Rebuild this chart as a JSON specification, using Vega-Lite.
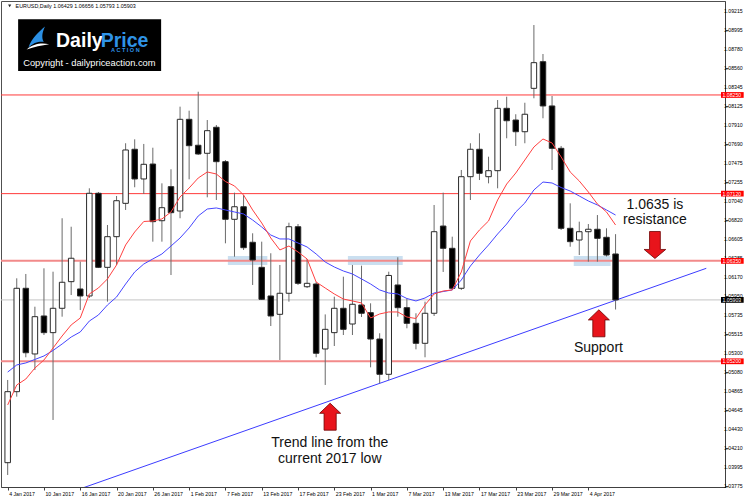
{
"$schema": "https://vega.github.io/schema/vega-lite/v6.json",
"width": 724, "height": 486,
"autosize": {"type": "none"},
"padding": {"left": 1, "top": 1, "right": 25, "bottom": 12},
"background": "white",
"config": {"view": {"stroke": "#505050", "strokeWidth": 1}, "font": "Liberation Sans",
 "axis": {"title": null, "grid": false, "labelFont": "Liberation Sans", "labelFontSize": 5.2, "labelColor": "#000000", "tickSize": 3, "tickColor": "#404040", "domainColor": "#404040", "labelOverlap": false, "labelFlush": false, "labelBound": false}},
"datasets": {
"candles": [
{"i":0,"o":1.04039,"h":1.04986,"l":1.03898,"c":1.04852,"fast":1.04700,"slow":1.05077},
{"i":1,"o":1.04852,"h":1.06150,"l":1.04795,"c":1.06036,"fast":1.04929,"slow":1.05158},
{"i":2,"o":1.06036,"h":1.06200,"l":1.05246,"c":1.05298,"fast":1.04997,"slow":1.05181},
{"i":3,"o":1.05284,"h":1.05825,"l":1.05100,"c":1.05711,"fast":1.05123,"slow":1.05221},
{"i":4,"o":1.05719,"h":1.06265,"l":1.05501,"c":1.05528,"fast":1.05215,"slow":1.05261},
{"i":5,"o":1.05528,"h":1.06226,"l":1.04528,"c":1.05807,"fast":1.05352,"slow":1.05324},
{"i":6,"o":1.05807,"h":1.06838,"l":1.05711,"c":1.06105,"fast":1.05490,"slow":1.05398},
{"i":7,"o":1.06112,"h":1.06741,"l":1.05959,"c":1.06380,"fast":1.05616,"slow":1.05478},
{"i":8,"o":1.06028,"h":1.06341,"l":1.05787,"c":1.05948,"fast":1.05696,"slow":1.05536},
{"i":9,"o":1.05948,"h":1.07181,"l":1.05925,"c":1.07124,"fast":1.05971,"slow":1.05661},
{"i":10,"o":1.07124,"h":1.07139,"l":1.06268,"c":1.06276,"fast":1.06039,"slow":1.05730},
{"i":11,"o":1.06276,"h":1.06761,"l":1.05883,"c":1.06627,"fast":1.06143,"slow":1.05845},
{"i":12,"o":1.06627,"h":1.07093,"l":1.06303,"c":1.07039,"fast":1.06303,"slow":1.05936},
{"i":13,"o":1.07009,"h":1.07697,"l":1.06933,"c":1.07620,"fast":1.06532,"slow":1.06085},
{"i":14,"o":1.07628,"h":1.07742,"l":1.07193,"c":1.07288,"fast":1.06681,"slow":1.06223},
{"i":15,"o":1.07288,"h":1.07689,"l":1.07116,"c":1.07456,"fast":1.06801,"slow":1.06314},
{"i":16,"o":1.07459,"h":1.07646,"l":1.06570,"c":1.06799,"fast":1.06807,"slow":1.06372},
{"i":17,"o":1.06810,"h":1.07238,"l":1.06570,"c":1.06959,"fast":1.06830,"slow":1.06429},
{"i":18,"o":1.07200,"h":1.07399,"l":1.06188,"c":1.06902,"fast":1.06910,"slow":1.06520},
{"i":19,"o":1.06921,"h":1.08116,"l":1.06838,"c":1.07971,"fast":1.07082,"slow":1.06612},
{"i":20,"o":1.07971,"h":1.08070,"l":1.07284,"c":1.07669,"fast":1.07185,"slow":1.06727},
{"i":21,"o":1.07674,"h":1.08287,"l":1.07563,"c":1.07574,"fast":1.07299,"slow":1.06864},
{"i":22,"o":1.07582,"h":1.07963,"l":1.07078,"c":1.07841,"fast":1.07368,"slow":1.06944},
{"i":23,"o":1.07880,"h":1.07906,"l":1.07047,"c":1.07486,"fast":1.07345,"slow":1.06956},
{"i":24,"o":1.07486,"h":1.07505,"l":1.06551,"c":1.06826,"fast":1.07259,"slow":1.06933},
{"i":25,"o":1.06826,"h":1.07131,"l":1.06398,"c":1.06970,"fast":1.07208,"slow":1.06910},
{"i":26,"o":1.06970,"h":1.07104,"l":1.06475,"c":1.06501,"fast":1.07104,"slow":1.06887},
{"i":27,"o":1.06563,"h":1.06666,"l":1.06074,"c":1.06360,"fast":1.06933,"slow":1.06818},
{"i":28,"o":1.06276,"h":1.06570,"l":1.05902,"c":1.05910,"fast":1.06784,"slow":1.06738},
{"i":29,"o":1.05948,"h":1.06437,"l":1.05604,"c":1.05719,"fast":1.06612,"slow":1.06646},
{"i":30,"o":1.05738,"h":1.06303,"l":1.05215,"c":1.05979,"fast":1.06475,"slow":1.06601},
{"i":31,"o":1.05979,"h":1.06787,"l":1.05883,"c":1.06741,"fast":1.06520,"slow":1.06601},
{"i":32,"o":1.06741,"h":1.06772,"l":1.06074,"c":1.06093,"fast":1.06452,"slow":1.06555},
{"i":33,"o":1.06054,"h":1.06369,"l":1.06039,"c":1.06093,"fast":1.06372,"slow":1.06509},
{"i":34,"o":1.06085,"h":1.06108,"l":1.05246,"c":1.05292,"fast":1.06108,"slow":1.06429},
{"i":35,"o":1.05341,"h":1.05737,"l":1.04929,"c":1.05566,"fast":1.06039,"slow":1.06337},
{"i":36,"o":1.05528,"h":1.05940,"l":1.05375,"c":1.05807,"fast":1.05971,"slow":1.06280},
{"i":37,"o":1.05807,"h":1.06169,"l":1.05501,"c":1.05566,"fast":1.05913,"slow":1.06234},
{"i":38,"o":1.05627,"h":1.06303,"l":1.05501,"c":1.05853,"fast":1.05891,"slow":1.06200},
{"i":39,"o":1.05845,"h":1.06295,"l":1.05707,"c":1.05750,"fast":1.05868,"slow":1.06143},
{"i":40,"o":1.05757,"h":1.05864,"l":1.05131,"c":1.05455,"fast":1.05696,"slow":1.06085},
{"i":41,"o":1.05455,"h":1.05521,"l":1.04948,"c":1.05051,"fast":1.05742,"slow":1.06017},
{"i":42,"o":1.05051,"h":1.06226,"l":1.04986,"c":1.06183,"fast":1.05765,"slow":1.05982},
{"i":43,"o":1.06074,"h":1.06391,"l":1.05711,"c":1.05814,"fast":1.05765,"slow":1.05971},
{"i":44,"o":1.05814,"h":1.05921,"l":1.05578,"c":1.05635,"fast":1.05707,"slow":1.05919},
{"i":45,"o":1.05635,"h":1.05750,"l":1.05337,"c":1.05406,"fast":1.05690,"slow":1.05891},
{"i":46,"o":1.05406,"h":1.05883,"l":1.05246,"c":1.05750,"fast":1.05845,"slow":1.05925},
{"i":47,"o":1.05750,"h":1.06990,"l":1.05719,"c":1.06684,"fast":1.05971,"slow":1.05982},
{"i":48,"o":1.06749,"h":1.07131,"l":1.06223,"c":1.06494,"fast":1.06005,"slow":1.05999},
{"i":49,"o":1.06494,"h":1.06627,"l":1.06017,"c":1.06036,"fast":1.06017,"slow":1.06017},
{"i":50,"o":1.06036,"h":1.07391,"l":1.06017,"c":1.07314,"fast":1.06223,"slow":1.06131},
{"i":51,"o":1.07314,"h":1.07697,"l":1.07047,"c":1.07628,"fast":1.06578,"slow":1.06291},
{"i":52,"o":1.07628,"h":1.07811,"l":1.07276,"c":1.07353,"fast":1.06704,"slow":1.06417},
{"i":53,"o":1.07314,"h":1.07543,"l":1.07238,"c":1.07383,"fast":1.06807,"slow":1.06532},
{"i":54,"o":1.07383,"h":1.08192,"l":1.07181,"c":1.08097,"fast":1.07047,"slow":1.06658},
{"i":55,"o":1.08097,"h":1.08230,"l":1.07754,"c":1.07955,"fast":1.07230,"slow":1.06772},
{"i":56,"o":1.07963,"h":1.08029,"l":1.07666,"c":1.07829,"fast":1.07356,"slow":1.06910},
{"i":57,"o":1.07829,"h":1.08161,"l":1.07697,"c":1.08029,"fast":1.07505,"slow":1.07013},
{"i":58,"o":1.08326,"h":1.09051,"l":1.08212,"c":1.08620,"fast":1.07654,"slow":1.07162},
{"i":59,"o":1.08631,"h":1.08719,"l":1.07983,"c":1.08124,"fast":1.07746,"slow":1.07253},
{"i":60,"o":1.08124,"h":1.08238,"l":1.07391,"c":1.07639,"fast":1.07700,"slow":1.07242},
{"i":61,"o":1.07639,"h":1.07666,"l":1.06704,"c":1.06723,"fast":1.07540,"slow":1.07190},
{"i":62,"o":1.06723,"h":1.07009,"l":1.06512,"c":1.06570,"fast":1.07368,"slow":1.07150},
{"i":63,"o":1.06589,"h":1.06799,"l":1.06417,"c":1.06684,"fast":1.07265,"slow":1.07093},
{"i":64,"o":1.06684,"h":1.06772,"l":1.06341,"c":1.06712,"fast":1.07139,"slow":1.07036},
{"i":65,"o":1.06712,"h":1.06875,"l":1.06341,"c":1.06608,"fast":1.07001,"slow":1.06990},
{"i":66,"o":1.06620,"h":1.06723,"l":1.06400,"c":1.06417,"fast":1.06910,"slow":1.06933},
{"i":67,"o":1.06429,"h":1.06656,"l":1.05793,"c":1.05903,"fast":1.06761,"slow":1.06875}
],
"yticks": [{"p":1.09215},{"p":1.08995},{"p":1.0878},{"p":1.0856},{"p":1.08345},{"p":1.08125},{"p":1.0791},{"p":1.0769},{"p":1.07475},{"p":1.07255},{"p":1.0704},{"p":1.0682},{"p":1.06605},{"p":1.06385},{"p":1.0617},{"p":1.0595},{"p":1.05735},{"p":1.05515},{"p":1.053},{"p":1.0508},{"p":1.04865},{"p":1.04645},{"p":1.0443},{"p":1.0421},{"p":1.03995},{"p":1.03775}]
},
"layer": [
{
"data": {"values": [
{"i0":24.27,"i1":28.62,"p0":1.06406,"p1":1.06303},
{"i0":37.50,"i1":43.54,"p0":1.06406,"p1":1.06303},
{"i0":62.39,"i1":66.45,"p0":1.06406,"p1":1.06292}
]},
"mark": {"type": "rect", "fill": "#c4dbee", "opacity": 0.9, "clip": true},
"encoding": {
"x": {"field": "i0", "type": "quantitative", "scale": {"domain": [-0.1848, 78.5109], "nice": false, "zero": false},
 "axis": {"orient": "bottom", "title": null, "values": [0,4,8,12,16,20,24,28,32,36,40,44,48,52,56,60,64],
 "labelExpr": "['4 Jan 2017','10 Jan 2017','16 Jan 2017','20 Jan 2017','26 Jan 2017','1 Feb 2017','7 Feb 2017','13 Feb 2017','17 Feb 2017','23 Feb 2017','1 Mar 2017','7 Mar 2017','13 Mar 2017','17 Mar 2017','23 Mar 2017','29 Mar 2017','4 Apr 2017'][round(datum.value/4)]",
 "labelAlign": "left", "labelBaseline": "top", "labelPadding": 1, "labelOffset": 1, "labelOverlap": false, "labelFlush": false, "labelBound": false}},
"x2": {"field": "i1"},
"y": {"field": "p0", "type": "quantitative", "scale": {"domain": [1.037604, 1.093261], "nice": false, "zero": false},
 "axis": {"orient": "right", "title": null, "values": [1.09215,1.08995,1.0878,1.0856,1.08345,1.08125,1.0791,1.0769,1.07475,1.07255,1.0704,1.0682,1.06605,1.06385,1.0617,1.0595,1.05735,1.05515,1.053,1.0508,1.04865,1.04645,1.0443,1.0421,1.03995,1.03775],
 "labels": false}},
"y2": {"field": "p1"}
}
},
{
"data": {"values": [{"p": 1.05903}]},
"mark": {"type": "rule", "color": "#c4c4c4", "strokeWidth": 1, "clip": true},
"encoding": {"y": {"field": "p", "type": "quantitative", "scale": {"domain": [1.037604, 1.093261], "nice": false, "zero": false}}}
},
{
"data": {"values": [{"p": 1.0635}, {"p": 1.052}]},
"mark": {"type": "rule", "color": "#f28a8a", "strokeWidth": 2, "clip": true},
"encoding": {"y": {"field": "p", "type": "quantitative", "scale": {"domain": [1.037604, 1.093261], "nice": false, "zero": false}}}
},
{
"data": {"values": [{"p": 1.0825}, {"p": 1.0712}]},
"mark": {"type": "rule", "color": "#ff3a3a", "strokeWidth": 1, "clip": true},
"encoding": {"y": {"field": "p", "type": "quantitative", "scale": {"domain": [1.037604, 1.093261], "nice": false, "zero": false}}}
},
{
"data": {"values": [{"i": 8.0, "p": 1.037396}, {"i": 77.0, "p": 1.06265}]},
"mark": {"type": "line", "color": "#3c3cff", "strokeWidth": 1, "clip": true},
"encoding": {
"x": {"field": "i", "type": "quantitative", "scale": {"domain": [-0.1848, 78.5109], "nice": false, "zero": false}},
"y": {"field": "p", "type": "quantitative", "scale": {"domain": [1.037604, 1.093261], "nice": false, "zero": false}}
}
},
{
"data": {"name": "candles"},
"mark": {"type": "rule", "color": "#6a6a6a", "strokeWidth": 1, "clip": true},
"encoding": {
"x": {"field": "i", "type": "quantitative", "scale": {"domain": [-0.1848, 78.5109], "nice": false, "zero": false}},
"y": {"field": "l", "type": "quantitative", "scale": {"domain": [1.037604, 1.093261], "nice": false, "zero": false}},
"y2": {"field": "h"}
}
},
{
"data": {"name": "candles"},
"mark": {"type": "bar", "width": 5.5, "stroke": "#2a2a2a", "strokeWidth": 1, "clip": true},
"encoding": {
"x": {"field": "i", "type": "quantitative", "scale": {"domain": [-0.1848, 78.5109], "nice": false, "zero": false}},
"y": {"field": "o", "type": "quantitative", "scale": {"domain": [1.037604, 1.093261], "nice": false, "zero": false}},
"y2": {"field": "c"},
"fill": {"condition": {"test": "datum.c >= datum.o", "value": "#ffffff"}, "value": "#000000"}
}
},
{
"data": {"name": "candles"},
"mark": {"type": "line", "color": "#4646ff", "strokeWidth": 1, "clip": true},
"encoding": {
"x": {"field": "i", "type": "quantitative", "scale": {"domain": [-0.1848, 78.5109], "nice": false, "zero": false}},
"y": {"field": "slow", "type": "quantitative", "scale": {"domain": [1.037604, 1.093261], "nice": false, "zero": false}}
}
},
{
"data": {"name": "candles"},
"mark": {"type": "line", "color": "#ff4040", "strokeWidth": 1, "clip": true},
"encoding": {
"x": {"field": "i", "type": "quantitative", "scale": {"domain": [-0.1848, 78.5109], "nice": false, "zero": false}},
"y": {"field": "fast", "type": "quantitative", "scale": {"domain": [1.037604, 1.093261], "nice": false, "zero": false}}
}
},
{
"data": {"values": [{"i0": 1.152, "i1": 16.913, "p0": 1.091165, "p1": 1.085245}]},
"mark": {"type": "rect", "fill": "#000000"},
"encoding": {
"x": {"field": "i0", "type": "quantitative", "scale": {"domain": [-0.1848, 78.5109], "nice": false, "zero": false}},
"x2": {"field": "i1"},
"y": {"field": "p0", "type": "quantitative", "scale": {"domain": [1.037604, 1.093261], "nice": false, "zero": false}},
"y2": {"field": "p1"}
}
},
{
"data": {"values": [{"i": 3.33, "p": 1.08899}]},
"mark": {"type": "point", "shape": "M0.6,-1C0.15,-0.6,-0.55,-0.05,-0.8,0.8C-0.4,0.35,0.1,0.25,0.5,0.3C0.3,0,0.35,-0.5,0.6,-1Z", "size": 560, "filled": true, "fill": "#2b8fe3", "opacity": 1, "strokeWidth": 0},
"encoding": {
"x": {"field": "i", "type": "quantitative", "scale": {"domain": [-0.1848, 78.5109], "nice": false, "zero": false}},
"y": {"field": "p", "type": "quantitative", "scale": {"domain": [1.037604, 1.093261], "nice": false, "zero": false}}
}
},
{
"data": {"values": [{"i": 3.33, "p": 1.08899}]},
"mark": {"type": "point", "shape": "M-0.95,0.95C-0.4,0.45,0.3,0.35,0.95,0.5C0.3,0.6,-0.3,0.7,-0.95,0.95Z", "size": 560, "filled": true, "fill": "#ffffff", "opacity": 1, "strokeWidth": 0},
"encoding": {
"x": {"field": "i", "type": "quantitative", "scale": {"domain": [-0.1848, 78.5109], "nice": false, "zero": false}},
"y": {"field": "p", "type": "quantitative", "scale": {"domain": [1.037604, 1.093261], "nice": false, "zero": false}}
}
},
{
"data": {"values": [{"i": 5.33, "p": 1.08805, "t": "Daily"}]},
"mark": {"type": "text", "align": "left", "baseline": "alphabetic", "font": "Liberation Sans", "fontWeight": "bold", "fontSize": 19.5, "color": "#ffffff"},
"encoding": {
"x": {"field": "i", "type": "quantitative", "scale": {"domain": [-0.1848, 78.5109], "nice": false, "zero": false}},
"y": {"field": "p", "type": "quantitative", "scale": {"domain": [1.037604, 1.093261], "nice": false, "zero": false}},
"text": {"field": "t"}
}
},
{
"data": {"values": [{"i": 10.25, "p": 1.08805, "t": "Price"}]},
"mark": {"type": "text", "align": "left", "baseline": "alphabetic", "font": "Liberation Sans", "fontWeight": "bold", "fontSize": 19.5, "color": "#2f93e6"},
"encoding": {
"x": {"field": "i", "type": "quantitative", "scale": {"domain": [-0.1848, 78.5109], "nice": false, "zero": false}},
"y": {"field": "p", "type": "quantitative", "scale": {"domain": [1.037604, 1.093261], "nice": false, "zero": false}},
"text": {"field": "t"}
}
},
{
"data": {"values": [{"i": 12.97, "p": 1.08738, "t": "A C T I O N"}]},
"mark": {"type": "text", "align": "center", "baseline": "alphabetic", "font": "Liberation Sans", "fontWeight": "bold", "fontSize": 5.5, "color": "#2f93e6"},
"encoding": {
"x": {"field": "i", "type": "quantitative", "scale": {"domain": [-0.1848, 78.5109], "nice": false, "zero": false}},
"y": {"field": "p", "type": "quantitative", "scale": {"domain": [1.037604, 1.093261], "nice": false, "zero": false}},
"text": {"field": "t"}
}
},
{
"data": {"values": [{"i": 9.0, "p": 1.08587, "t": "Copyright - dailypriceaction.com"}]},
"mark": {"type": "text", "align": "center", "baseline": "alphabetic", "font": "Liberation Sans", "fontSize": 9.3, "color": "#ffffff"},
"encoding": {
"x": {"field": "i", "type": "quantitative", "scale": {"domain": [-0.1848, 78.5109], "nice": false, "zero": false}},
"y": {"field": "p", "type": "quantitative", "scale": {"domain": [1.037604, 1.093261], "nice": false, "zero": false}},
"text": {"field": "t"}
}
},
{
"data": {"values": [{"i": 0.87, "p": 1.09269, "t": "EURUSD,Daily  1.06429 1.06656 1.05793 1.05903"}]},
"mark": {"type": "text", "align": "left", "baseline": "middle", "font": "Liberation Sans", "fontSize": 5.4, "color": "#000000"},
"encoding": {
"x": {"field": "i", "type": "quantitative", "scale": {"domain": [-0.1848, 78.5109], "nice": false, "zero": false}},
"y": {"field": "p", "type": "quantitative", "scale": {"domain": [1.037604, 1.093261], "nice": false, "zero": false}},
"text": {"field": "t"}
}
},
{
"data": {"values": [{"i": 0.22, "p": 1.09269}]},
"mark": {"type": "point", "shape": "triangle-down", "size": 10, "filled": true, "fill": "#222222", "opacity": 1},
"encoding": {
"x": {"field": "i", "type": "quantitative", "scale": {"domain": [-0.1848, 78.5109], "nice": false, "zero": false}},
"y": {"field": "p", "type": "quantitative", "scale": {"domain": [1.037604, 1.093261], "nice": false, "zero": false}}
}
},
{
"data": {"values": [{"i": 65.16, "p": 1.05635}, {"i": 35.54, "p": 1.045655}]},
"mark": {"type": "point", "shape": "M0,-1L0.78,-0.25L0.45,-0.25L0.45,1L-0.45,1L-0.45,-0.25L-0.78,-0.25Z", "size": 729, "filled": true, "fill": "#e8141b", "stroke": "#6e0000", "strokeWidth": 0.8, "opacity": 1},
"encoding": {
"x": {"field": "i", "type": "quantitative", "scale": {"domain": [-0.1848, 78.5109], "nice": false, "zero": false}},
"y": {"field": "p", "type": "quantitative", "scale": {"domain": [1.037604, 1.093261], "nice": false, "zero": false}}
}
},
{
"data": {"values": [{"i": 71.34, "p": 1.065318}]},
"mark": {"type": "point", "shape": "M0,1L0.8,0.33L0.4,0.33L0.4,-1L-0.4,-1L-0.4,0.33L-0.8,0.33Z", "size": 729, "filled": true, "fill": "#e8141b", "stroke": "#6e0000", "strokeWidth": 0.8, "opacity": 1},
"encoding": {
"x": {"field": "i", "type": "quantitative", "scale": {"domain": [-0.1848, 78.5109], "nice": false, "zero": false}},
"y": {"field": "p", "type": "quantitative", "scale": {"domain": [1.037604, 1.093261], "nice": false, "zero": false}}
}
},
{
"data": {"values": [
{"i": 71.34, "p": 1.06944, "t": "1.0635 is"},
{"i": 71.34, "p": 1.06778, "t": "resistance"},
{"i": 65.11, "p": 1.05307, "t": "Support"},
{"i": 35.5, "p": 1.04213, "t": "Trend line from the"},
{"i": 35.5, "p": 1.04030, "t": "current 2017 low"}
]},
"mark": {"type": "text", "align": "center", "baseline": "alphabetic", "font": "Liberation Sans", "fontSize": 14, "color": "#111111"},
"encoding": {
"x": {"field": "i", "type": "quantitative", "scale": {"domain": [-0.1848, 78.5109], "nice": false, "zero": false}},
"y": {"field": "p", "type": "quantitative", "scale": {"domain": [1.037604, 1.093261], "nice": false, "zero": false}},
"text": {"field": "t"}
}
},
{
"data": {"name": "yticks"},
"mark": {"type": "text", "align": "left", "baseline": "middle", "font": "Liberation Sans", "fontSize": 5.2, "color": "#000000", "clip": false},
"encoding": {
"x": {"datum": 78.946, "type": "quantitative", "scale": {"domain": [-0.1848, 78.5109], "nice": false, "zero": false}},
"y": {"field": "p", "type": "quantitative", "scale": {"domain": [1.037604, 1.093261], "nice": false, "zero": false}},
"text": {"field": "p", "format": ".5f"}
}
},
{
"data": {"values": [{"p": 1.0825}, {"p": 1.0712}, {"p": 1.0635}, {"p": 1.052}]},
"transform": [{"calculate": "datum.p + 0.00033", "as": "top"}, {"calculate": "datum.p - 0.00033", "as": "bot"}],
"mark": {"type": "rect", "fill": "#ff0000", "clip": false},
"encoding": {
"x": {"datum": 78.62, "type": "quantitative", "scale": {"domain": [-0.1848, 78.5109], "nice": false, "zero": false}},
"x2": {"datum": 81.12},
"y": {"field": "top", "type": "quantitative", "scale": {"domain": [1.037604, 1.093261], "nice": false, "zero": false}},
"y2": {"field": "bot"}
}
},
{
"data": {"values": [{"p": 1.05903}]},
"transform": [{"calculate": "datum.p + 0.00033", "as": "top"}, {"calculate": "datum.p - 0.00033", "as": "bot"}],
"mark": {"type": "rect", "fill": "#000000", "clip": false},
"encoding": {
"x": {"datum": 78.62, "type": "quantitative", "scale": {"domain": [-0.1848, 78.5109], "nice": false, "zero": false}},
"x2": {"datum": 81.12},
"y": {"field": "top", "type": "quantitative", "scale": {"domain": [1.037604, 1.093261], "nice": false, "zero": false}},
"y2": {"field": "bot"}
}
},
{
"data": {"values": [{"p": 1.0825}, {"p": 1.0712}, {"p": 1.0635}, {"p": 1.052}, {"p": 1.05903}]},
"mark": {"type": "text", "align": "center", "baseline": "middle", "font": "Liberation Sans", "fontSize": 5.2, "color": "#ffffff", "clip": false},
"encoding": {
"x": {"datum": 79.815, "type": "quantitative", "scale": {"domain": [-0.1848, 78.5109], "nice": false, "zero": false}},
"y": {"field": "p", "type": "quantitative", "scale": {"domain": [1.037604, 1.093261], "nice": false, "zero": false}},
"text": {"field": "p", "format": ".5f"}
}
}
]
}
